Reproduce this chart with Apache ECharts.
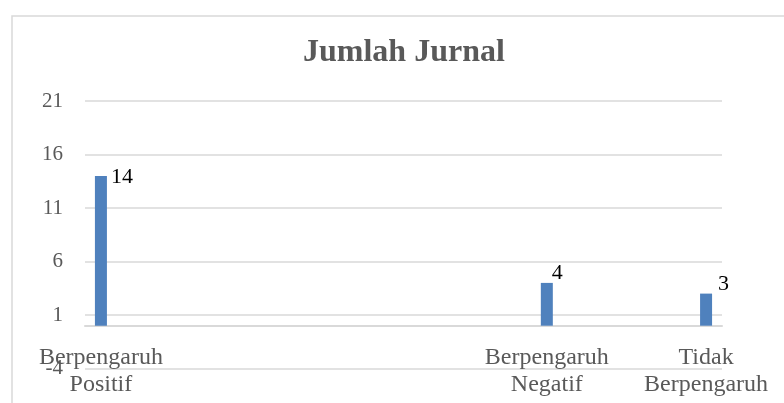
<!DOCTYPE html>
<html lang="en">
<head>
    <meta charset="UTF-8">
    <title>Jumlah Jurnal</title>
    <script src="https://cdn.jsdelivr.net/npm/echarts@6/dist/echarts.min.js"></script>
    <style>
        html, body { margin: 0; padding: 0; background: #fff; }
        #main { width: 784px; height: 403px; }
    </style>
</head>
<body>
<div id="main"></div>
<script>
    // data as laid out in the source sheet (blank rows keep the spacing)
    var categories = [
        'Berpengaruh\nPositif', '', '', '', '', '', '', '', '', '', '', '', '', '',
        'Berpengaruh\nNegatif', '', '', '', '',
        'Tidak\nBerpengaruh'
    ];
    var jumlah = [
        14, null, null, null, null, null, null, null, null, null, null, null, null, null,
        4, null, null, null, null,
        3
    ];
    var yMin = -4, yMax = 21, yStep = 5;

    var serif = 'Liberation Serif';
    var grey = '#595959';
    var line = '#d9d9d9';

    // the value labels were nudged by hand in the original, keep that
    var labelNudge = {0: [16, -10], 14: [11, -21], 19: [18, -20]};

    var barData = jumlah.map(function (v, i) {
        if (v === null) return null;
        return {value: v, label: {position: labelNudge[i] || [14, -16]}};
    });

    echarts.init(document.getElementById('main')).setOption({
        animation: false,
        title: {
            text: 'Jumlah Jurnal',
            left: 303,
            top: 37,
            padding: 0,
            textStyle: {fontFamily: serif, fontSize: 32, fontWeight: 'bold', color: grey}
        },
        graphic: [{
            type: 'rect',
            shape: {x: 12, y: 16, width: 820, height: 420},
            style: {fill: 'none', stroke: line, lineWidth: 1.5},
            silent: true
        }],
        grid: {left: 85, right: 62, top: 101, bottom: 34.5, containLabel: false, outerBoundsMode: 'none'},
        xAxis: {
            type: 'category',
            data: categories,
            axisTick: {show: false},
            axisLine: {onZero: true, lineStyle: {color: line, width: 2}},
            axisLabel: {
                interval: 0,
                margin: -24,
                fontFamily: serif,
                fontSize: 24,
                lineHeight: 27,
                color: grey
            }
        },
        yAxis: {
            type: 'value',
            min: yMin,
            max: yMax,
            interval: yStep,
            axisLine: {show: false},
            axisTick: {show: false},
            splitLine: {lineStyle: {color: line, width: 1.5}},
            axisLabel: {margin: 22, fontFamily: serif, fontSize: 21, color: grey}
        },
        series: [{
            type: 'bar',
            data: barData,
            barWidth: 12,
            itemStyle: {color: '#4f81bd'},
            label: {
                show: true,
                fontFamily: serif,
                fontSize: 22,
                color: '#000'
            }
        }]
    });
</script>
</body>
</html>
